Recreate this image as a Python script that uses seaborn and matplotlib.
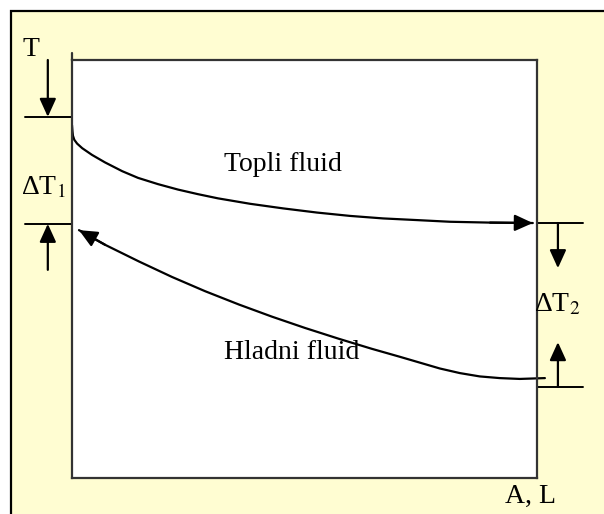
import matplotlib
matplotlib.use('Agg')
import matplotlib.pyplot as plt
import seaborn as sns
import pandas as pd
from matplotlib.patches import Rectangle

# Normalised position along the exchanger (A, L) and normalised temperature
hot_x = [0.0, 0.001, 0.002, 0.005, 0.011, 0.022, 0.043, 0.071, 0.108, 0.142, 0.185, 0.228,
         0.271, 0.314, 0.383, 0.454, 0.527, 0.598, 0.669, 0.742, 0.813, 0.899, 0.991]
hot_t = [0.844, 0.830, 0.819, 0.809, 0.800, 0.789, 0.773, 0.755, 0.734, 0.718, 0.703, 0.690,
         0.679, 0.669, 0.656, 0.645, 0.635, 0.627, 0.621, 0.617, 0.613, 0.611, 0.610]

cold_x = [1.017, 0.963, 0.920, 0.877, 0.834, 0.791, 0.748, 0.705, 0.645, 0.574, 0.501,
          0.430, 0.359, 0.286, 0.215, 0.144, 0.071, 0.015]
cold_t = [0.239, 0.237, 0.239, 0.243, 0.251, 0.262, 0.276, 0.290, 0.309, 0.333, 0.359,
          0.386, 0.415, 0.447, 0.481, 0.518, 0.558, 0.593]

# temperature levels marked on both ends
t_hot_in = 0.864
t_cold_out = 0.608
t_hot_out = 0.610
t_cold_in = 0.218

labels = {'hot': 'Topli fluid', 'cold': 'Hladni fluid', 'T': 'T', 'x': 'A, L',
          'dt1': 'ΔT$_1$', 'dt2': 'ΔT$_2$'}

hot = pd.DataFrame({'x': hot_x, 't': hot_t})
cold = pd.DataFrame({'x': cold_x, 't': cold_t})

sns.set_style('white')
plt.rcParams['font.family'] = ['Liberation Serif', 'DejaVu Serif']
plt.rcParams['mathtext.fontset'] = 'stix'

fig = plt.figure(figsize=(6.04, 5.14), dpi=100)
fig.patch.set_facecolor('white')
# yellow panel with black frame on left/top
fig.patches.append(Rectangle((11 / 604, -0.1), 1.0, 1 - 11 / 514 + 0.1,
                             transform=fig.transFigure, facecolor='#fffdd2',
                             edgecolor='black', linewidth=1.6, zorder=-5))

ax = fig.add_axes([72 / 604, 36 / 514, 465 / 604, 418 / 514])
ax.set_zorder(2)
ax.set_facecolor('white')
ax.set_xlim(0, 1)
ax.set_ylim(0, 1)
for s in ax.spines.values():
    s.set_color('#333333')
    s.set_linewidth(1.6)
ax.set_xticks([])
ax.set_yticks([])

sns.lineplot(data=hot, x='x', y='t', sort=False, color='black', linewidth=1.6, ax=ax,
             solid_joinstyle='round')
sns.lineplot(data=cold, x='x', y='t', sort=False, color='black', linewidth=1.6,
             ax=ax, clip_on=False, solid_joinstyle='round')
ax.set_xlabel('')
ax.set_ylabel('')

head = dict(arrowstyle='-|>,head_length=0.55,head_width=0.25', color='black',
            lw=1.6, mutation_scale=20, shrinkA=0, shrinkB=0)
ax.annotate('', xy=(hot_x[-1], hot_t[-1]), xytext=(hot_x[-2], hot_t[-2]), arrowprops=head)
ax.annotate('', xy=(cold_x[-1], cold_t[-1]), xytext=(cold_x[-2], cold_t[-2]), arrowprops=head)

# level marks outside the frame
kw = dict(color='black', linewidth=1.4, clip_on=False)
ax.plot([-0.101, 0], [t_hot_in, t_hot_in], **kw)
ax.plot([-0.101, 0], [t_cold_out, t_cold_out], **kw)
ax.plot([1, 1.099], [t_hot_out, t_hot_out], **kw)
ax.plot([1, 1.099], [t_cold_in, t_cold_in], **kw)
ax.plot([0, 0], [1.0, 1.017], color='#333333', linewidth=1.6, clip_on=False)

ax.annotate('', xy=(-0.052, t_hot_in), xytext=(-0.052, 1.0), arrowprops=head,
            annotation_clip=False)
ax.annotate('', xy=(-0.052, t_cold_out), xytext=(-0.052, 0.498), arrowprops=head,
            annotation_clip=False)
ax.annotate('', xy=(1.045, 0.502), xytext=(1.045, t_hot_out), arrowprops=head,
            annotation_clip=False)
ax.annotate('', xy=(1.045, 0.325), xytext=(1.045, t_cold_in), arrowprops=head,
            annotation_clip=False)

tk = dict(fontsize=20, color='black', ha='center', va='center')
ax.text(0.454, 0.749, labels['hot'], **tk)
ax.text(0.473, 0.301, labels['cold'], **tk)
ax.text(-0.088, 1.026, labels['T'], **tk)
ax.text(-0.062, 0.694, labels['dt1'], **tk)
ax.text(1.043, 0.414, labels['dt2'], **tk)
ax.text(0.985, -0.045, labels['x'], **tk)

fig.savefig('out.png', dpi=100, facecolor=fig.get_facecolor())
